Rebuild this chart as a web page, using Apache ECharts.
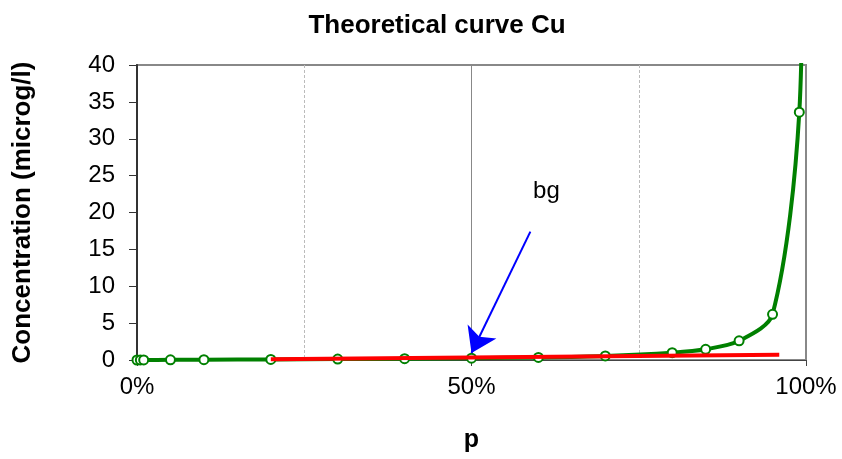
<!DOCTYPE html>
<html>
<head>
<meta charset="utf-8">
<script src="https://cdn.jsdelivr.net/npm/echarts@6/dist/echarts.min.js"></script>
<style>html,body{margin:0;padding:0;background:#fff;}#c{width:842px;height:459px;}</style>
</head>
<body>
<div id="c"></div>
<script>
const pValues = [0, 0.5, 1, 5, 10, 20, 30, 40, 50, 60, 70, 80, 85, 90, 95, 99, 99.5];
const concValues = [0, 0.005, 0.01, 0.02, 0.04, 0.08, 0.12, 0.18, 0.25, 0.35, 0.55, 1.0, 1.45, 2.6, 6.2, 33.6, 60];
const bgP = [20, 96];
const bgConc = [0.1, 0.72];
const arrowFrom = [58.8, 17.4];
const arrowTo = [50, 0.95];
const bgLabelPos = [61.2, 22.8];
const xTicks = [0, 50, 100];
const yTicks = [0, 5, 10, 15, 20, 25, 30, 35, 40];

const FONT = '"Liberation Sans", Arial, sans-serif';
const chart = echarts.init(document.getElementById('c'), null, {renderer: 'canvas'});
chart.setOption({
  animation: false,
  backgroundColor: '#fff',
  title: {
    text: 'Theoretical curve Cu', left: 432, top: 8, textAlign: 'center',
    textStyle: {fontFamily: FONT, fontWeight: 'bold', fontSize: 26, color: '#000'}
  },
  grid: {left: 137, right: 36, top: 65, bottom: 99, show: true, borderColor: '#888', borderWidth: 2, backgroundColor: 'transparent'},
  xAxis: {
    type: 'value', min: xTicks[0], max: xTicks[xTicks.length - 1], interval: 50,
    name: 'p', nameLocation: 'middle', nameGap: 68,
    nameTextStyle: {fontFamily: FONT, fontWeight: 'bold', fontSize: 25, color: '#000'},
    axisLine: {show: true, onZero: false, lineStyle: {color: '#444', width: 1}},
    axisTick: {show: true, length: 6, lineStyle: {color: '#444'}},
    axisLabel: {formatter: '{value}%', fontFamily: FONT, fontSize: 24, color: '#000', margin: 15},
    splitLine: {show: true, lineStyle: {color: '#888', width: 1}},
    minorTick: {show: false, splitNumber: 2},
    minorSplitLine: {show: true, lineStyle: {color: '#bbb', type: [3, 2], width: 1}}
  },
  yAxis: {
    type: 'value', min: yTicks[0], max: yTicks[yTicks.length - 1], interval: 5,
    name: 'Concentration (microg/l)', nameLocation: 'middle', nameGap: 101,
    nameTextStyle: {fontFamily: FONT, fontWeight: 'bold', fontSize: 26, color: '#000'},
    axisLine: {show: true, lineStyle: {color: '#333', width: 2}},
    axisTick: {show: true, length: 8, lineStyle: {color: '#333'}},
    axisLabel: {fontFamily: FONT, fontSize: 24, color: '#000', margin: 22},
    splitLine: {show: false}
  },
  series: [
    {
      type: 'line', name: 'theory', data: pValues.map((p, i) => [p, concValues[i]]),
      smooth: 0.3, clip: true, z: 3,
      symbol: 'emptyCircle', symbolSize: 9, showAllSymbol: true,
      lineStyle: {color: '#008000', width: 4},
      itemStyle: {color: '#008000', borderColor: '#008000', borderWidth: 2}
    },
    {
      type: 'line', name: 'bg', data: bgP.map((p, i) => [p, bgConc[i]]),
      symbol: 'none', z: 4,
      lineStyle: {color: '#ff0000', width: 4},
      markLine: {
        silent: true, symbol: ['none', 'arrow'], symbolSize: 24,
        lineStyle: {color: '#0000ff', width: 2, type: 'solid'},
        itemStyle: {color: '#0000ff'},
        label: {show: false},
        data: [[{coord: arrowFrom}, {coord: arrowTo}]]
      },
      markPoint: {
        silent: true, symbol: 'circle', symbolSize: 1, itemStyle: {color: 'transparent'},
        label: {show: true, formatter: 'bg', position: 'inside', fontFamily: FONT, fontSize: 24, color: '#000'},
        data: [{coord: bgLabelPos}]
      }
    }
  ]
});
</script>
</body>
</html>
